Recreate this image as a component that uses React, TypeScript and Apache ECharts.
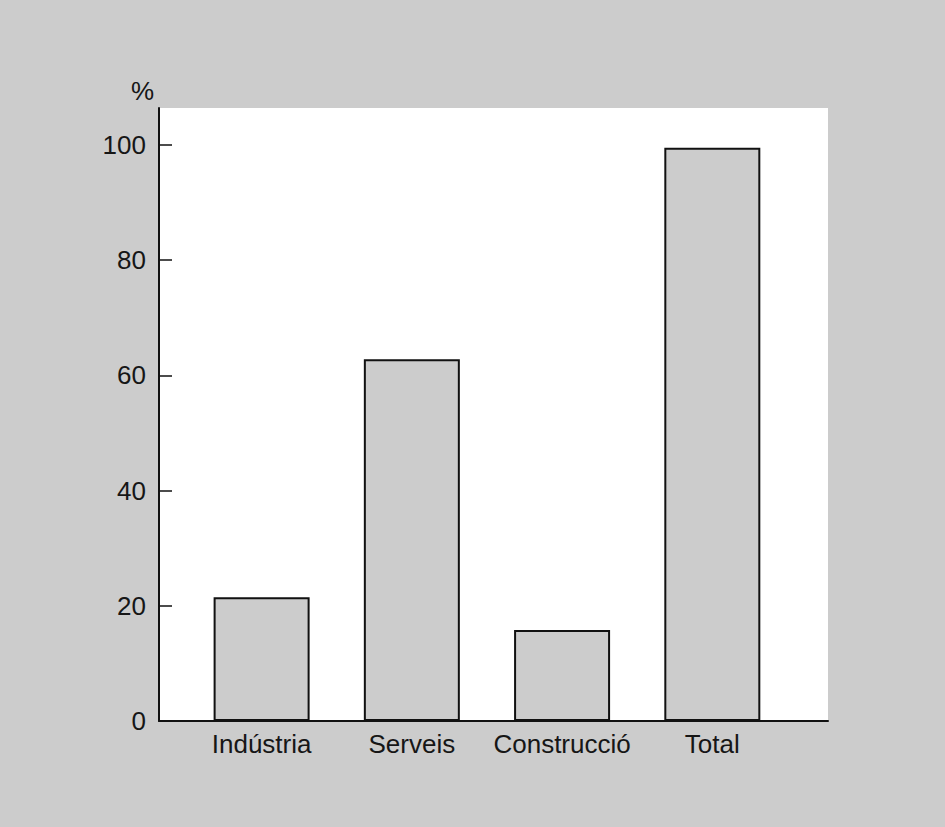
import React, { useEffect, useRef } from "react";
import * as echarts from "echarts";

const categories = ["Indústria", "Serveis", "Construcció", "Total"];
const values = [21.5, 62.8, 15.8, 99.5];
const yTicks = [0, 20, 40, 60, 80, 100];

export default function App() {
  const ref = useRef<HTMLDivElement>(null);
  useEffect(() => {
    if (!ref.current) return;
    const chart = echarts.init(ref.current, null, { renderer: "svg" });
    const font = "'Liberation Sans', Arial, Helvetica, sans-serif";
    const positions = categories.map((_, i) => i + 1);
    chart.setOption({
      animation: false,
      backgroundColor: "#cccccc",
      textStyle: { fontFamily: font },
      grid: {
        left: 159,
        right: 117,
        top: 108,
        bottom: 106,
        show: true,
        backgroundColor: "#ffffff",
        borderWidth: 0,
      },
      xAxis: {
        type: "value",
        min: 0.317,
        max: 4.77,
        splitLine: { show: false },
        axisTick: { show: false },
        axisLine: { show: true, lineStyle: { color: "#111", width: 2 } },
        axisLabel: {
          customValues: positions,
          formatter: (v: number) => categories[Math.round(v) - 1] ?? "",
          fontSize: 26,
          color: "#161616",
          margin: 10,
          fontFamily: font,
        },
      },
      yAxis: {
        type: "value",
        min: 0,
        max: 106.4,
        name: "%",
        nameLocation: "end",
        nameGap: 4,
        nameTextStyle: {
          fontSize: 26,
          color: "#161616",
          align: "right",
          padding: [0, 5, 0, 0],
          fontFamily: font,
        },
        splitLine: { show: false },
        axisLine: { show: true, lineStyle: { color: "#111", width: 2 } },
        axisTick: {
          show: true,
          inside: true,
          length: 13,
          customValues: yTicks,
          lineStyle: { color: "#111", width: 1.5 },
        },
        axisLabel: {
          customValues: yTicks,
          fontSize: 26,
          color: "#161616",
          margin: 13,
          fontFamily: font,
        },
      },
      series: [
        {
          type: "bar",
          barWidth: 96,
          data: values.map((v, i) => [positions[i], v]),
          itemStyle: { color: "#cccccc", borderColor: "#111", borderWidth: 2 },
        },
      ],
    });
    return () => chart.dispose();
  }, []);
  return (
    <div
      ref={ref}
      style={{ position: "fixed", left: 0, top: 0, width: 945, height: 827 }}
    />
  );
}
